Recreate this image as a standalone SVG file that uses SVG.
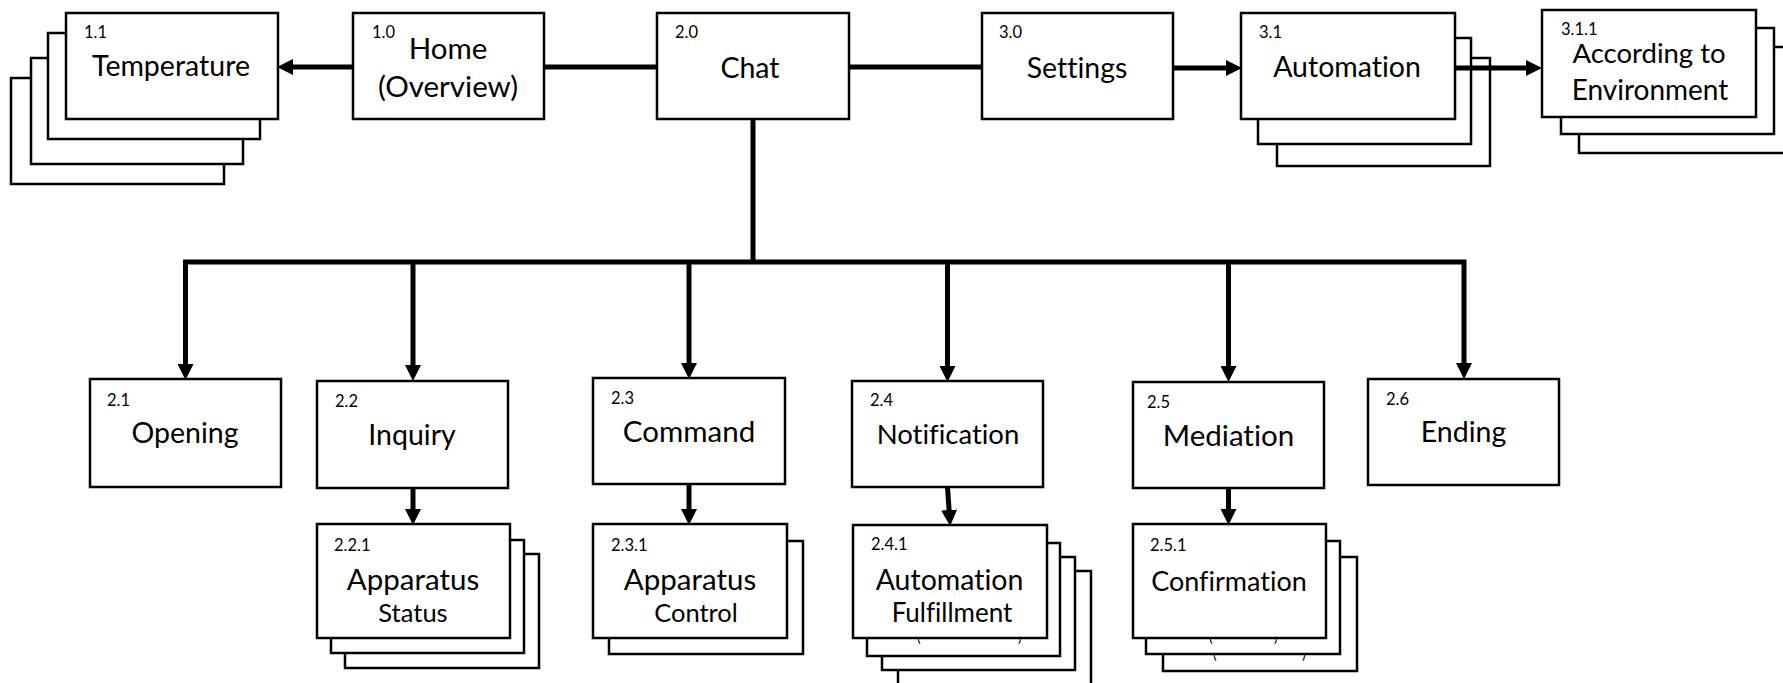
<svg xmlns="http://www.w3.org/2000/svg" width="1783" height="683" viewBox="0 0 1783 683">
<style>
text{font-family:Lato,"Liberation Sans",sans-serif;fill:#000;font-variant-ligatures:none;font-feature-settings:"liga" 0}
.box{fill:#fff;stroke:#000;stroke-width:2.5}
.num{font-size:16.5px}
.lbl{font-size:28.5px;text-anchor:middle}
.sub{font-size:25.5px;text-anchor:middle}
.par{font-size:14px}
.conn{stroke:#000;stroke-width:5;fill:none}
</style>
<defs>
<marker id="arr" markerUnits="userSpaceOnUse" viewBox="0 0 16 16" markerWidth="16" markerHeight="16" refX="6" refY="8" orient="auto">
<path d="M0,0 L16,8 L0,16 z" fill="#000"/>
</marker>
</defs>
<rect width="1783" height="683" fill="#fff"/>

<g id="n1_1">
<rect class="box" x="11" y="78" width="213" height="106"/>
<rect class="box" x="31" y="58" width="212" height="106"/>
<rect class="box" x="48" y="33" width="212" height="106"/>
<rect class="box" x="66" y="13" width="212" height="106"/>
<text class="num" x="84" y="38">1.1</text>
<text class="lbl" x="171" y="76">Temperature</text>
</g>

<g id="n1_0">
<rect class="box" x="353" y="13" width="191" height="106"/>
<text class="num" x="372" y="38">1.0</text>
<text class="lbl" x="448" y="59" style="font-size:29.5px">Home</text>
<text class="lbl" x="448" y="97" style="font-size:29.5px">(Overview)</text>
</g>

<g id="n2_0">
<rect class="box" x="657" y="13" width="192" height="106"/>
<text class="num" x="675" y="38">2.0</text>
<text class="lbl" x="750" y="78">Chat</text>
</g>

<g id="n3_0">
<rect class="box" x="982" y="13" width="191" height="106"/>
<text class="num" x="999" y="38">3.0</text>
<text class="lbl" x="1077" y="78">Settings</text>
</g>

<g id="n3_1">
<rect class="box" x="1277" y="58" width="213" height="108"/>
<rect class="box" x="1258" y="38" width="213" height="106"/>
<rect class="box" x="1241" y="13" width="214" height="106"/>
<text class="num" x="1259" y="38">3.1</text>
<text class="lbl" x="1347" y="77">Automation</text>
</g>

<g id="n3_1_1">
<rect class="box" x="1579" y="47" width="230" height="106"/>
<rect class="box" x="1561" y="28" width="213" height="106"/>
<rect class="box" x="1542" y="10" width="214" height="107"/>
<text class="num" x="1561" y="35">3.1.1</text>
<text class="lbl" x="1649" y="63" style="font-size:27.5px">According to</text>
<text class="lbl" x="1650" y="100" style="font-size:28px">Environment</text>
</g>

<g id="n2_1">
<rect class="box" x="90" y="379" width="191" height="108"/>
<text class="num" x="107" y="406">2.1</text>
<text class="lbl" x="185" y="443">Opening</text>
</g>

<g id="n2_2">
<rect class="box" x="317" y="381" width="191" height="107"/>
<text class="num" x="335" y="407">2.2</text>
<text class="lbl" x="412" y="445">Inquiry</text>
</g>

<g id="n2_2_1">
<rect class="box" x="345" y="554" width="194" height="114"/>
<rect class="box" x="331" y="540" width="193" height="113"/>
<rect class="box" x="317" y="524" width="193" height="114"/>
<text class="num" x="334" y="551">2.2.1</text>
<text class="lbl" x="413" y="590" style="font-size:29.5px">Apparatus</text>
<text class="sub" x="413" y="622">Status</text>
</g>

<g id="n2_3">
<rect class="box" x="593" y="378" width="192" height="106"/>
<text class="num" x="611" y="404">2.3</text>
<text class="lbl" x="689" y="442" style="font-size:29.5px">Command</text>
</g>

<g id="n2_3_1">
<rect class="box" x="609" y="541" width="194" height="113"/>
<rect class="box" x="593" y="524" width="194" height="114"/>
<text class="num" x="611" y="551">2.3.1</text>
<text class="lbl" x="690" y="590" style="font-size:29.5px">Apparatus</text>
<text class="sub" x="696" y="622">Control</text>
</g>

<g id="n2_4">
<rect class="box" x="852" y="381" width="191" height="106"/>
<text class="num" x="870" y="406">2.4</text>
<text class="lbl" x="948" y="444" style="font-size:27.5px">Notification</text>
</g>

<g id="n2_4_1">
<rect class="box" x="898" y="571" width="193" height="130"/>
<rect class="box" x="882" y="557" width="193" height="113"/>
<rect class="box" x="867" y="543" width="193" height="113"/>
<text class="par" x="917" y="642">(</text>
<text class="par" x="1018" y="642">)</text>
<rect class="box" x="853" y="525" width="194" height="113"/>
<text class="num" x="871" y="550">2.4.1</text>
<text class="lbl" x="949.5" y="590">Automation</text>
<text class="sub" x="952" y="622" style="font-size:26px">Fulfillment</text>
</g>

<g id="n2_5">
<rect class="box" x="1133" y="382" width="191" height="106"/>
<text class="num" x="1147" y="408">2.5</text>
<text class="lbl" x="1228.5" y="446" style="font-size:29.5px">Mediation</text>
</g>

<g id="n2_5_1">
<rect class="box" x="1163" y="557" width="194" height="114"/>
<text class="par" x="1213" y="659">(</text>
<text class="par" x="1302" y="659">)</text>
<rect class="box" x="1146" y="541" width="194" height="113"/>
<text class="par" x="1209" y="642">(</text>
<text class="par" x="1274" y="642">)</text>
<rect class="box" x="1133" y="524" width="193" height="114"/>
<text class="num" x="1150" y="551">2.5.1</text>
<text class="lbl" x="1229" y="591" style="font-size:27px">Confirmation</text>
</g>

<g id="n2_6">
<rect class="box" x="1368" y="379" width="191" height="106"/>
<text class="num" x="1386" y="405">2.6</text>
<text class="lbl" x="1463.5" y="442">Ending</text>
</g>

<g id="connectors">
<line class="conn" x1="353" y1="67" x2="287" y2="67" marker-end="url(#arr)"/>
<line class="conn" x1="544" y1="67" x2="657" y2="67"/>
<line class="conn" x1="849" y1="67" x2="982" y2="67"/>
<line class="conn" x1="1173" y1="68" x2="1232" y2="68" marker-end="url(#arr)"/>
<line class="conn" x1="1455" y1="68" x2="1532" y2="68" marker-end="url(#arr)"/>
<line class="conn" x1="753" y1="119" x2="753" y2="262"/>
<polyline class="conn" points="185.5,370 185.5,262 1464,262 1464,369" marker-end="url(#arr)"/>
<line class="conn" x1="185.5" y1="262" x2="185.5" y2="370" marker-end="url(#arr)"/>
<line class="conn" x1="413" y1="262" x2="413" y2="371" marker-end="url(#arr)"/>
<line class="conn" x1="689" y1="262" x2="689" y2="369" marker-end="url(#arr)"/>
<line class="conn" x1="947.5" y1="262" x2="947.5" y2="372" marker-end="url(#arr)"/>
<line class="conn" x1="1228.5" y1="262" x2="1228.5" y2="372" marker-end="url(#arr)"/>
<line class="conn" x1="413" y1="488" x2="413" y2="515" marker-end="url(#arr)"/>
<line class="conn" x1="689" y1="484" x2="689" y2="515" marker-end="url(#arr)"/>
<line class="conn" x1="947.5" y1="487" x2="949.5" y2="516" marker-end="url(#arr)"/>
<line class="conn" x1="1228.5" y1="488" x2="1228.5" y2="515" marker-end="url(#arr)"/>
</g>
</svg>
